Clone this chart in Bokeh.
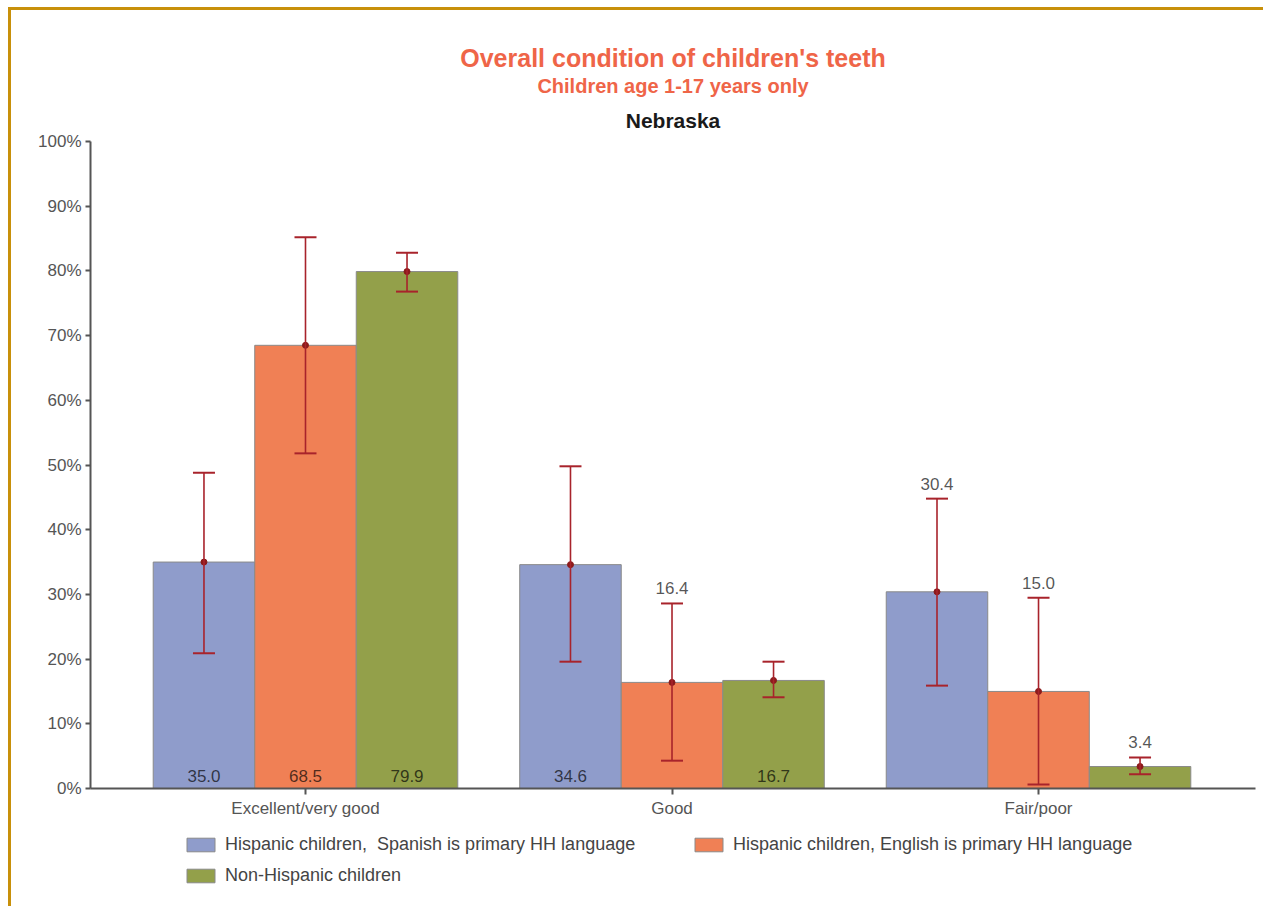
from bokeh.plotting import figure
from bokeh.layouts import column
from bokeh.models import (Range1d, FixedTicker, Whisker, ColumnDataSource, Legend,
                          LegendItem, Title, TeeHead, PrintfTickFormatter)
from bokeh.core.properties import value
from bokeh.embed import file_html
from bokeh.resources import INLINE

# ---------------- data ----------------
categories = ["Excellent/very good", "Good", "Fair/poor"]
series_names = ["Hispanic children,  Spanish is primary HH language",
                "Hispanic children, English is primary HH language",
                "Non-Hispanic children"]
spanish = [35.0, 34.6, 30.4]
english = [68.5, 16.4, 15.0]
non_hispanic = [79.9, 16.7, 3.4]
spanish_lo = [20.9, 19.6, 15.9]
spanish_hi = [48.8, 49.8, 44.8]
english_lo = [51.8, 4.3, 0.6]
english_hi = [85.2, 28.6, 29.5]
non_hispanic_lo = [76.8, 14.1, 2.2]
non_hispanic_hi = [82.8, 19.6, 4.8]
label_above_spanish = [False, False, True]
label_above_english = [False, True, True]
label_above_non_hispanic = [False, False, True]
y_ticks = [0, 10, 20, 30, 40, 50, 60, 70, 80, 90, 100]

FONT = "Liberation Sans"
colors = ["#8F9CCB", "#F08055", "#93A04A"]
bar_line = "#8a8a8a"
err_color = "#A8232B"
bar_w = 0.277
offsets = [-bar_w, 0.0, bar_w]
W = 1252

p = figure(width=W, height=820, x_range=Range1d(-0.5866, 2.592), y_range=Range1d(0, 100),
           output_backend="svg", toolbar_location=None, title=None,
           min_border_left=79, min_border_right=8, min_border_top=131, min_border_bottom=42)
p.outline_line_color = None
p.xgrid.visible = False
p.ygrid.visible = False

# legend strip below the chart (same bars, drawn out of its visible y-range; only the legend shows)
leg = figure(width=W, height=76, x_range=p.x_range, y_range=Range1d(500, 501),
             output_backend="svg", toolbar_location=None, title=None,
             x_axis_location=None, y_axis_location=None,
             min_border_left=79, min_border_right=8, min_border_top=0, min_border_bottom=0)
leg.outline_line_color = None
leg.xgrid.visible = False
leg.ygrid.visible = False

series = [
    (spanish, spanish_lo, spanish_hi, label_above_spanish),
    (english, english_lo, english_hi, label_above_english),
    (non_hispanic, non_hispanic_lo, non_hispanic_hi, label_above_non_hispanic),
]
items = []
for i, (vals, lo, hi, above) in enumerate(series):
    xs = [c + offsets[i] for c in range(len(categories))]
    src = ColumnDataSource(dict(x=xs, top=vals, lo=lo, hi=hi))
    p.vbar(x="x", top="top", bottom=0, width=bar_w, source=src,
           fill_color=colors[i], line_color=bar_line, line_width=1)
    lr = leg.vbar(x="x", top="top", bottom=0, width=bar_w, source=src,
                  fill_color=colors[i], line_color=bar_line, line_width=1)
    items.append(LegendItem(label=series_names[i], renderers=[lr]))
    w = Whisker(source=src, base="x", upper="hi", lower="lo", level="annotation",
                line_color=err_color, line_width=1.6,
                upper_head=TeeHead(size=22, line_color=err_color, line_width=2),
                lower_head=TeeHead(size=22, line_color=err_color, line_width=2))
    p.add_layout(w)
    p.scatter("x", "top", source=src, size=6, color="#8B1A1A")
    lab_y = [h if a else 0 for h, a in zip(hi, above)]
    lab_off = [-15 if a else -13 for a in above]
    lsrc = ColumnDataSource(dict(x=xs, y=lab_y, off=lab_off, t=["%.1f" % v for v in vals]))
    p.text(x="x", y="y", text="t", y_offset="off", source=lsrc, text_align="center",
           text_baseline="middle", text_font=value(FONT), text_font_size="17px",
           text_color="#000000", text_alpha=0.68)

# axes
p.xaxis.ticker = FixedTicker(ticks=list(range(len(categories))))
p.xaxis.major_label_overrides = {i: c for i, c in enumerate(categories)}
p.yaxis.ticker = FixedTicker(ticks=y_ticks)
p.yaxis.formatter = PrintfTickFormatter(format="%d%%")
for ax in (p.xaxis, p.yaxis):
    ax.axis_line_color = "#555555"
    ax.axis_line_width = 2
    ax.major_tick_line_color = "#555555"
    ax.major_tick_line_width = 2
    ax.major_tick_in = 0
    ax.minor_tick_line_color = None
    ax.major_label_text_font = FONT
    ax.major_label_text_font_size = "17px"
    ax.major_label_text_color = "#555555"
p.yaxis.major_tick_out = 5
p.yaxis.major_label_standoff = 4
p.xaxis.major_tick_out = 6
p.xaxis.major_label_standoff = 4

# titles (added closest-to-plot first)
p.add_layout(Title(text="Nebraska", align="center", standoff=19, text_font=FONT,
                   text_font_style="bold", text_font_size="21px", text_color="#1a1a1a"), "above")
p.add_layout(Title(text="Children age 1-17 years only", align="center", standoff=2,
                   text_font=FONT, text_font_style="bold", text_font_size="20px",
                   text_color="#EF6548"), "above")
p.add_layout(Title(text="Overall condition of children's teeth", align="center",
                   standoff=0, text_font=FONT, text_font_style="bold", text_font_size="25px",
                   text_color="#EF6548"), "above")

legend = Legend(items=items, orientation="horizontal", ncols=2, location=(93, 20),
                glyph_width=35, glyph_height=17, label_width=456, label_height=20,
                spacing=10, padding=0, margin=0, label_standoff=7,
                border_line_alpha=0, background_fill_alpha=0,
                label_text_font=FONT, label_text_font_size="18px", label_text_color="#444444")
leg.add_layout(legend)

layout = column(p, leg, spacing=0)
layout.styles = {"margin-left": "8px", "margin-top": "7px",
                 "border-top": "3px solid #C8900A", "border-left": "3px solid #C8900A"}

open("out.html", "w").write(file_html(layout, INLINE))
